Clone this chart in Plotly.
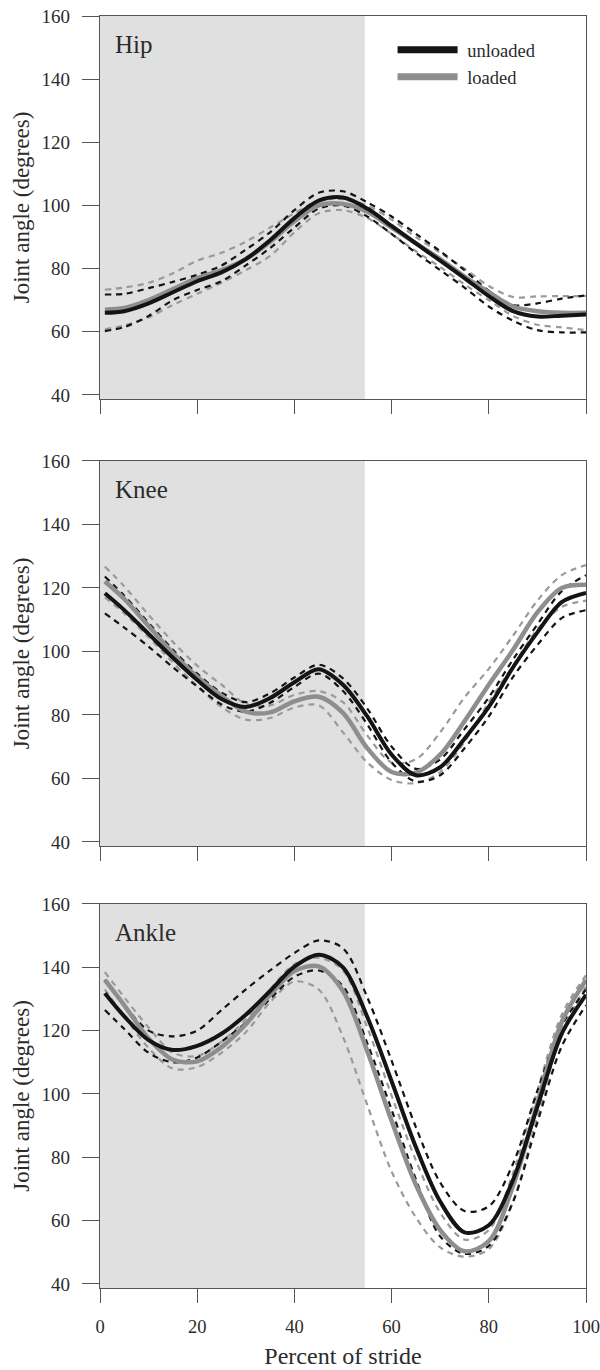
import plotly.graph_objects as go
from plotly.subplots import make_subplots

# ---------------- data ----------------
x_pct = [1, 5, 10, 15, 20, 25, 30, 35, 40, 45, 50, 55, 60, 65, 70, 75, 80, 85, 90, 95, 100]

hip_unloaded       = [66, 66.5, 69, 72.5, 76, 78.8, 83, 89, 96, 101.5, 102.5, 99, 93.5, 88, 82.5, 77, 71.3, 66.5, 64.8, 65.1, 65.5]
hip_unloaded_upper = [71.8, 72, 73.8, 75.8, 78, 81, 86, 91.5, 98.5, 104, 104.5, 101, 96.5, 91, 85.5, 79.5, 73, 68.5, 69, 70.5, 71.5]
hip_unloaded_lower = [60.2, 61.5, 65, 70, 73.2, 76, 81, 86.5, 93, 99, 100, 96.5, 91, 85, 79.5, 74, 68, 63.5, 60.5, 59.8, 59.8]
hip_loaded         = [67, 67.5, 70, 73.5, 77, 79.5, 83, 88.5, 95, 100, 100.5, 98, 93, 88, 83, 77.5, 72.5, 68, 66.5, 66, 66]
hip_loaded_upper   = [73.3, 74, 75.5, 78.5, 82.5, 85, 88.5, 93, 97.5, 101.5, 102, 100, 95.5, 90, 85, 80, 74.5, 71, 71.2, 71.3, 71.3]
hip_loaded_lower   = [60.8, 62, 64.5, 68.5, 72, 75.5, 79.5, 84, 91.5, 97.5, 98.5, 96, 91, 85.5, 80.5, 75, 70, 65, 62.2, 61.4, 60.5]

knee_unloaded       = [118.3, 113, 105.5, 98, 91, 85, 82.5, 85.3, 90.3, 94.4, 89.5, 79.5, 67.5, 61, 63.5, 72.5, 82.5, 95, 106, 115.5, 118.4]
knee_unloaded_upper = [123.6, 117.5, 109, 100.5, 93, 87, 84, 86.8, 91.8, 95.8, 91.5, 82, 70, 63, 66, 75.5, 85.5, 97.5, 108.5, 119, 124]
knee_unloaded_lower = [112, 107.5, 101.5, 95, 89, 83.3, 81, 83.8, 88.8, 93, 87.5, 77, 65, 59, 61, 69.5, 79.5, 92, 102, 110.5, 113]
knee_loaded         = [122, 116.5, 108, 99.5, 92, 86, 81, 80.8, 84.3, 85.7, 80.6, 69.5, 62, 61.8, 67.5, 78, 89.5, 100.5, 112.3, 120, 121]
knee_loaded_upper   = [126.7, 120.5, 111.5, 103, 95.5, 89.5, 83.5, 83, 86.3, 87.5, 84, 73.5, 65, 66, 74.5, 85.5, 94.5, 105, 116, 124, 127.2]
knee_loaded_lower   = [117, 112, 104.5, 96.5, 89, 82.5, 78.5, 79, 82.3, 83, 74.5, 65, 59.5, 58.5, 62, 71.5, 84, 95.5, 107, 114, 116]

ankle_unloaded       = [131.8, 124.5, 117, 113.9, 115.2, 119, 125, 132.5, 140.2, 144, 140, 124.3, 104, 83.2, 66, 56.3, 58.5, 72.9, 96, 119, 131.3]
ankle_unloaded_upper = [136, 128, 120, 118.2, 120, 126.5, 133, 139, 144.5, 148.5, 146, 130.5, 110.5, 89.5, 72, 63, 64.5, 78, 101, 121.5, 133]
ankle_unloaded_lower = [126.5, 120.5, 113, 110, 111.5, 116.5, 122.5, 130, 137, 139, 134, 116, 95, 73, 55, 49.5, 52, 66, 91, 115, 128]
ankle_loaded         = [136, 128, 117.5, 110.8, 110.3, 114.8, 122, 131.3, 138.8, 140.3, 132.5, 113.5, 91.5, 71.3, 57, 50.3, 53.5, 71, 97, 122.7, 136]
ankle_loaded_upper   = [138.5, 130.5, 121, 113, 112, 116.5, 123.5, 133, 141, 143, 139, 121, 99.5, 79, 62.5, 54, 57, 75, 101, 125, 137.5]
ankle_loaded_lower   = [133, 124.5, 114.5, 108, 108.5, 113, 119.5, 129, 135.5, 133, 118, 96.5, 75.5, 61, 51.5, 48.6, 51, 66, 93, 119, 134]

panel_names = ["Hip", "Knee", "Ankle"]
legend_names = ["unloaded", "loaded"]
stance_end = 54.5
x_ticks = [0, 20, 40, 60, 80, 100]
y_ticks = [40, 60, 80, 100, 120, 140, 160]

panels = [
    (hip_unloaded, hip_unloaded_upper, hip_unloaded_lower, hip_loaded, hip_loaded_upper, hip_loaded_lower),
    (knee_unloaded, knee_unloaded_upper, knee_unloaded_lower, knee_loaded, knee_loaded_upper, knee_loaded_lower),
    (ankle_unloaded, ankle_unloaded_upper, ankle_unloaded_lower, ankle_loaded, ankle_loaded_upper, ankle_loaded_lower),
]

# ---------------- style ----------------
FONT = "Liberation Serif"
TXT = "#2b2b2b"
AX = "#555555"
BLACK = "#141414"
GRAY = "#8e8e8e"
DGRAY = "#9a9a9a"
SHADE = "#e0e0e0"

fig = make_subplots(rows=3, cols=1, shared_xaxes=False, vertical_spacing=0.0)

domains = [[0.6989, 1.0], [0.3475, 0.6502], [0.0, 0.3019]]

for i, (u, uu, ul, l, lu, ll) in enumerate(panels):
    r = i + 1
    sfx = "" if r == 1 else str(r)
    for ys, col in [(lu, DGRAY), (ll, DGRAY), (uu, BLACK), (ul, BLACK)]:
        fig.add_trace(go.Scatter(x=x_pct, y=ys, mode="lines",
                                 line=dict(color=col, width=2.2, dash="6px,5px", shape="spline", smoothing=0.9),
                                 showlegend=False, hoverinfo="skip"), row=r, col=1)
    fig.add_trace(go.Scatter(x=x_pct, y=l, mode="lines",
                             line=dict(color=GRAY, width=4.5, shape="spline", smoothing=0.9),
                             showlegend=False), row=r, col=1)
    fig.add_trace(go.Scatter(x=x_pct, y=u, mode="lines",
                             line=dict(color=BLACK, width=4, shape="spline", smoothing=0.9),
                             showlegend=False), row=r, col=1)

    fig.add_shape(type="rect", xref=f"x{sfx}", yref=f"y{sfx} domain",
                  x0=0, x1=stance_end, y0=0, y1=1, fillcolor=SHADE, line_width=0, layer="below")

    fig.add_annotation(text=panel_names[i], xref=f"x{sfx} domain",
                       yref=f"y{sfx} domain", x=0.026, y=0.925,
                       xanchor="left", yanchor="middle", showarrow=False,
                       font=dict(family=FONT, size=25, color=TXT))

    fig.update_xaxes(row=r, col=1, range=[0, 100], tickvals=x_ticks, showticklabels=(r == 3),
                     ticks="outside", ticklen=14, tickwidth=1.3, tickcolor=AX,
                     showline=True, linecolor=AX, linewidth=1.3, mirror=True,
                     showgrid=False, zeroline=False, ticklabeloverflow="allow",
                     ticklabelstandoff=8, automargin=False,
                     tickfont=dict(family=FONT, size=18.5, color=TXT))
    fig.update_yaxes(row=r, col=1, range=[38.7, 160], tickvals=y_ticks, domain=domains[i],
                     ticks="outside", ticklen=17, tickwidth=1.3, tickcolor=AX,
                     showline=True, linecolor=AX, linewidth=1.3, mirror=True,
                     showgrid=False, zeroline=False, ticklabelstandoff=8, automargin=False,
                     tickfont=dict(family=FONT, size=19, color=TXT),
                     title=dict(text="Joint angle (degrees)", standoff=5,
                                font=dict(family=FONT, size=23, color=TXT)))

fig.update_xaxes(row=3, col=1, title=dict(text="Percent of stride", standoff=10,
                                          font=dict(family=FONT, size=24, color=TXT)))

# legend entries
fig.add_trace(go.Scatter(x=[None], y=[None], mode="lines", name="\u00a0" + legend_names[0],
                         line=dict(color=BLACK, width=7)), row=1, col=1)
fig.add_trace(go.Scatter(x=[None], y=[None], mode="lines", name="\u00a0" + legend_names[1],
                         line=dict(color=GRAY, width=7)), row=1, col=1)

fig.update_layout(
    width=600, height=1370,
    margin=dict(l=100, r=14, t=16, b=82),
    paper_bgcolor="white", plot_bgcolor="white",
    font=dict(family=FONT, color=TXT),
    showlegend=True,
    legend=dict(x=0.602, y=0.988, xref="paper", yref="paper", xanchor="left", yanchor="top",
                bgcolor="rgba(0,0,0,0)", itemwidth=60, tracegroupgap=0,
                font=dict(family=FONT, size=18.5, color=TXT)),
)

fig.write_html("out.html")
